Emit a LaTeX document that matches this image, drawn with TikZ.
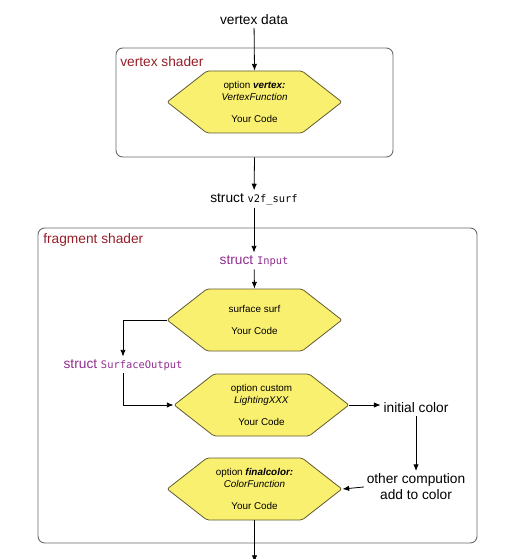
\documentclass[tikz,border=0pt]{standalone}
\usepackage{fontspec}
\setmainfont{Liberation Sans}
\setmonofont{DejaVu Sans Mono}
\usetikzlibrary{arrows.meta,shapes.symbols}

\definecolor{hexfill}{RGB}{250,240,112}
\definecolor{hexline}{RGB}{95,90,50}
\definecolor{shaderred}{RGB}{150,30,40}
\definecolor{structpurple}{RGB}{145,45,145}
\definecolor{boxline}{RGB}{105,105,105}
\newcommand\ident[1]{{\ttfamily\fontsize{7.8}{10}\selectfont #1}}

\tikzset{
  hexa/.style={signal, signal to=east and west, signal pointer angle=76,
    draw=hexline, fill=hexfill, line width=0.6pt, rounded corners=1.5pt,
    minimum width=131pt, minimum height=46.5pt, inner sep=0pt,
    align=center, font=\fontsize{7.4}{9}\selectfont},
  stage/.style={draw=boxline, line width=0.7pt, rounded corners=5pt, inner sep=0pt},
  shaderlabel/.style={anchor=west, inner sep=0pt, text=shaderred,
    font=\fontsize{10.3}{12}\selectfont},
  plain/.style={inner sep=2pt, align=center, font=\fontsize{10.3}{12}\selectfont},
  structlabel/.style={plain, text=structpurple},
  flow/.style={-{Latex[length=5pt,width=4pt]}, line width=0.6pt}
}

\begin{document}
\begin{tikzpicture}[x=0.75pt,y=-0.75pt]
    \useasboundingbox (0,0) rectangle (507,559);
    \clip (0,0) rectangle (507,559);
    % shader stages
    \node[stage, minimum width=207.75pt, minimum height=81.75pt] (vbox) at (254.5,102.5) {};
    \node[stage, minimum width=329.25pt, minimum height=236.25pt] (fbox) at (257.5,385.5) {};
    \node[shaderlabel] (vlabel) at (120,62) {vertex shader};
    \node[shaderlabel] (flabel) at (43,240) {fragment shader};
    % vertex part
    \node[plain] (vdata) at (254,20) {vertex data};
    \node[hexa] (hex1) at (254.5,102) {option \textbf{\textit{vertex:}}\\ \textit{VertexFunction}\\[8pt] Your Code};
    \node[plain] (v2f) at (254,199) {struct \ident{v2f\_surf}};
    % fragment part
    \node[structlabel] (input) at (254,261) {struct \ident{Input}};
    \node[hexa] (hex2) at (254.5,320) {surface surf\\[8pt] Your Code};
    \node[structlabel] (surfout) at (123,365) {struct \ident{SurfaceOutput}};
    \node[hexa] (hex3) at (261.5,405) {option custom\\ \textit{LightingXXX}\\[8pt] Your Code};
    \node[plain] (initial) at (416,408) {initial color};
    \node[plain] (other) at (416,487) {other compution\\ add to color};
    \node[hexa] (hex4) at (254.5,489) {option \textbf{\textit{finalcolor:}}\\ \textit{ColorFunction}\\[8pt] Your Code};
    \coordinate (exit) at (254.5,562);
    % connectors
    \draw[flow] (vdata) -- (hex1.north);
    \draw[flow] (vbox.south) -- (v2f);
    \draw[flow] (v2f) -- (input);
    \draw[flow] (input) -- (hex2.north);
    \draw[flow] (hex2.west) -| (surfout.north);
    \draw[flow] (surfout.south) |- (hex3.west);
    \draw[flow] (hex3.east) -- (hex3.east -| initial.west);
    \draw[flow] (initial) -- (other);
    \draw[flow] (other.west) -- (hex4.east);
    \draw[flow] (hex4.south) -- (exit);
\end{tikzpicture}
\end{document}
